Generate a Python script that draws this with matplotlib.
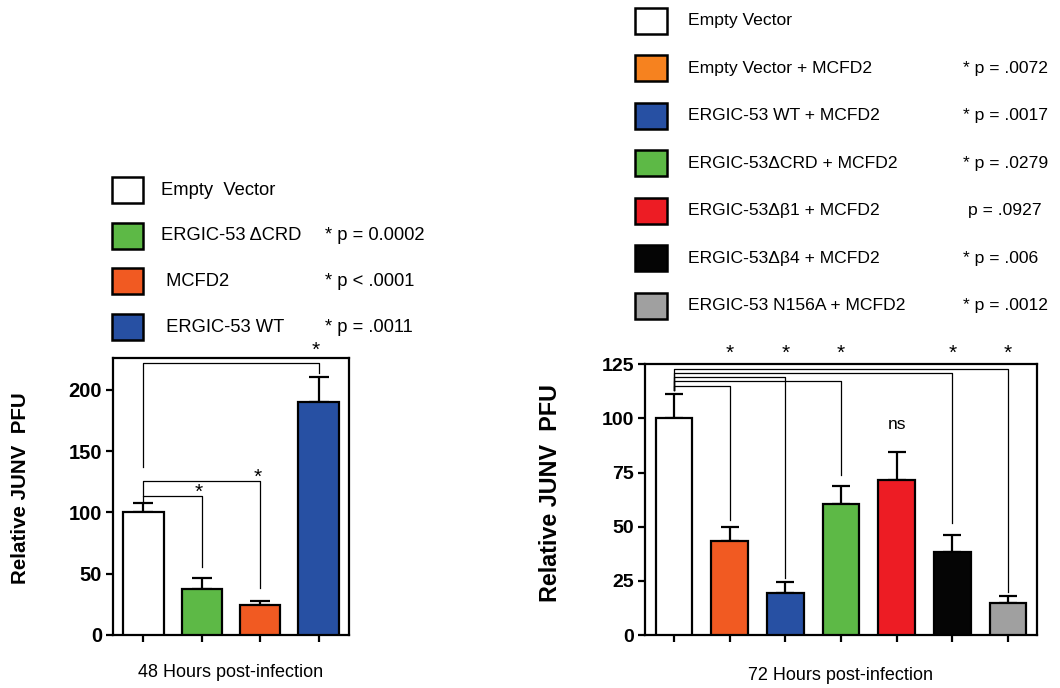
import numpy as np
import matplotlib.pyplot as plt
from matplotlib.patches import Rectangle

plt.rcParams['font.family'] = ['Liberation Sans', 'DejaVu Sans']

# ---------------- data ----------------
left_labels = ["Empty  Vector", "ERGIC-53 \u0394CRD", " MCFD2", " ERGIC-53 WT"]
left_pvals = ["", "* p = 0.0002", "* p < .0001", "* p = .0011"]
left_values = [100, 37.5, 24.2, 190.5]
left_err = [7.5, 9.3, 3.8, 20.4]
left_colors = ["#FFFFFF", "#5DB946", "#F15A22", "#2750A3"]

right_labels = ["Empty Vector", "Empty Vector + MCFD2", "ERGIC-53 WT + MCFD2",
                "ERGIC-53\u0394CRD + MCFD2", "ERGIC-53\u0394\u03b21 + MCFD2",
                "ERGIC-53\u0394\u03b24 + MCFD2", "ERGIC-53 N156A + MCFD2"]
right_pvals = ["", "* p = .0072", "* p = .0017", "* p = .0279", "p = .0927",
               "* p = .006", "* p = .0012"]
right_values = [100, 43.2, 19.4, 60.4, 71.5, 38.1, 14.9]
right_err = [11.5, 6.5, 4.9, 8.5, 12.8, 8.0, 3.1]
right_colors = ["#FFFFFF", "#F15A22", "#2750A3", "#5DB946", "#ED1C24", "#050505", "#A0A0A0"]
right_legend_colors = ["#FFFFFF", "#F6821F", "#2750A3", "#5DB946", "#ED1C24", "#050505", "#A0A0A0"]

# brackets: (target index, bar height, target leg bottom, star y)
left_brackets = [(1, 113.7, 55.8, 116.5), (2, 125.7, 38.3, 129.0), (3, 222.3, 214.0, 232.0)]
left_bracket_leg0 = [107.5, 113.7, 137.0]
right_brackets = [(1, 115.2, 53.0), (2, 119.2, 26.1), (3, 117.3, 73.8), (5, 121.0, 51.8), (6, 123.0, 19.7)]
right_star_y = 130.0
right_ns_y = 97.0

W, H = 1060, 688
fig = plt.figure(figsize=(W / 100, H / 100), dpi=100)


def px_rect(x0, y0, x1, y1):
    """axes rectangle from pixel coords (top-left origin)"""
    return [x0 / W, 1 - y1 / H, (x1 - x0) / W, (y1 - y0) / H]


def style_axes(ax, n, ymax, yticks, tick_size):
    ax.set_xlim(-0.52, n - 0.48)
    ax.set_ylim(0, ymax)
    ax.set_xticks(range(n))
    ax.set_xticklabels([])
    ax.set_yticks(yticks)
    for sp in ax.spines.values():
        sp.set_linewidth(1.6)
    ax.tick_params(axis='both', width=1.6, length=5, direction='out')
    ax.tick_params(axis='y', labelsize=tick_size, pad=3)
    for t in ax.get_yticklabels():
        t.set_fontweight('bold')


def draw_bars(ax, values, err, colors, width, capsize):
    x = np.arange(len(values))
    ax.bar(x, values, width=width, color=colors, edgecolor='black', linewidth=1.6, zorder=3)
    ax.errorbar(x, values, yerr=[np.zeros(len(err)), err], fmt='none', ecolor='black',
                elinewidth=1.6, capsize=capsize, capthick=1.6, zorder=2)


# ---------------- left chart ----------------
axL = fig.add_axes(px_rect(113, 358, 349, 635))
draw_bars(axL, left_values, left_err, left_colors, 0.69, 7)
style_axes(axL, 4, 226, [0, 50, 100, 150, 200], 14.5)
for (j, yb, ybot, ys), y0 in zip(left_brackets, left_bracket_leg0):
    axL.plot([0, 0, j, j], [y0, yb, yb, ybot], color='black', lw=0.9, clip_on=False, zorder=4)
    axL.text(j - 0.05, ys, "*", ha='center', va='center', fontsize=15, clip_on=False)
axL.set_ylabel("Relative JUNV  PFU", fontsize=14.8, fontweight='bold')
axL.yaxis.set_label_coords(-0.352, 0.53)
axL.set_xlabel("48 Hours post-infection", fontsize=13)
axL.xaxis.set_label_coords(0.5, -0.137)
axL.xaxis.label.set_va('center')

# ---------------- right chart ----------------
axR = fig.add_axes(px_rect(645, 364.3, 1037, 635))
draw_bars(axR, right_values, right_err, right_colors, 0.66, 6.5)
style_axes(axR, 7, 125, [0, 25, 50, 75, 100, 125], 14)
for j, yb, ybot in right_brackets:
    axR.plot([0, 0, j, j], [113.0, yb, yb, ybot], color='black', lw=0.9, clip_on=False, zorder=4)
    axR.text(j, right_star_y, "*", ha='center', va='center', fontsize=15, clip_on=False)
axR.text(4, right_ns_y, "ns", ha='center', va='center', fontsize=12.5)
axR.set_ylabel("Relative JUNV  PFU", fontsize=16.8, fontweight='bold')
axR.yaxis.set_label_coords(-0.212, 0.526)
axR.set_xlabel("72 Hours post-infection", fontsize=13)
axR.xaxis.set_label_coords(0.5, -0.148)
axR.xaxis.label.set_va('center')


# ---------------- legends ----------------
def draw_legend(labels, pvals, colors, x_box, box_w, box_h, y0, dy, x_text, x_p, fs):
    for i, (lab, pv, c) in enumerate(zip(labels, pvals, colors)):
        yc = y0 + i * dy
        fig.add_artist(Rectangle((x_box / W, 1 - (yc + box_h / 2) / H), box_w / W, box_h / H,
                                 facecolor=c, edgecolor='black', linewidth=1.8,
                                 transform=fig.transFigure))
        fig.text(x_text / W, 1 - yc / H, lab, ha='left', va='center', fontsize=fs)
        if pv:
            xp = x_p if pv.startswith('*') else x_p + 5
            fig.text(xp / W, 1 - yc / H, pv, ha='left', va='center', fontsize=fs)


draw_legend(left_labels, left_pvals, left_colors, 112, 31, 26, 190, 45.7, 161, 325, 13.2)
draw_legend(right_labels, right_pvals, right_legend_colors, 635, 32, 26, 20.7, 47.55, 688, 963, 12.6)

fig.savefig("out.png", dpi=100)
